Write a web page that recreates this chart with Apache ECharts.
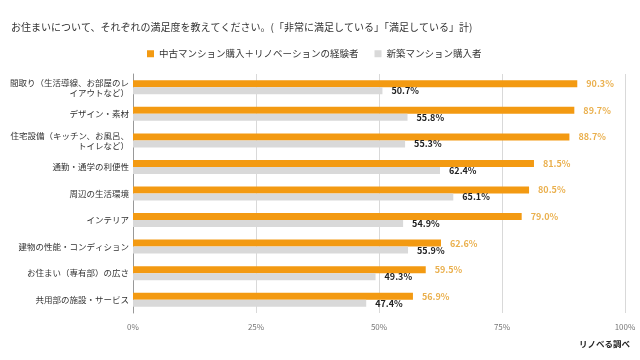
<!DOCTYPE html>
<html><head><meta charset="utf-8">
<script src="https://cdn.jsdelivr.net/npm/echarts@6/dist/echarts.min.js"></script>
<style>html,body{margin:0;padding:0;background:#fff}#c{width:640px;height:360px}</style>
</head><body><div id="c"></div>
<script>
const categories = [
  "間取り（生活導線、お部屋のレ\nイアウトなど）",
  "デザイン・素材",
  "住宅設備（キッチン、お風呂、\nトイレなど）",
  "通勤・通学の利便性",
  "周辺の生活環境",
  "インテリア",
  "建物の性能・コンディション",
  "お住まい（専有部）の広さ",
  "共用部の施設・サービス"
];
const seriesNames = ["中古マンション購入＋リノベーションの経験者", "新築マンション購入者"];
const renovation = [90.3, 89.7, 88.7, 81.5, 80.5, 79.0, 62.6, 59.5, 56.9];
const newBuild = [50.7, 55.8, 55.3, 62.4, 65.1, 54.9, 55.9, 49.3, 47.4];
const xTicks = [0, 25, 50, 75, 100];

const FONT = '"Noto Sans CJK JP", "Noto Sans", sans-serif';
const chart = echarts.init(document.getElementById('c'), null, {renderer: 'canvas'});
chart.setOption({
  animation: false,
  textStyle: {fontFamily: FONT},
  title: [{
    text: 'お住まいについて、それぞれの満足度を教えてください。(「非常に満足している」「満足している」計)',
    left: 6, top: 17,
    textStyle: {fontSize: 10, fontWeight: 'normal', color: '#333', fontFamily: FONT}
  }, {
    text: 'リノベる調べ',
    right: 5, top: 335,
    textStyle: {fontSize: 8.5, fontWeight: 'bold', color: '#222', fontFamily: FONT}
  }],
  legend: {
    left: 142, top: 44,
    itemWidth: 7, itemHeight: 7, itemGap: 16,
    icon: 'rect',
    textStyle: {fontSize: 9.5, color: '#333', fontFamily: FONT},
    data: seriesNames
  },
  grid: {left: 133, right: 15, top: 74, bottom: 47, containLabel: false},
  xAxis: {
    type: 'value', min: 0, max: 100, interval: 25,
    axisLine: {show: false}, axisTick: {show: false},
    splitLine: {show: true, lineStyle: {color: '#d9d9d9', width: 1}},
    axisLabel: {
      fontSize: 8, color: '#777', margin: 10, fontFamily: FONT,
      formatter: v => xTicks.includes(v) ? v + '%' : ''
    }
  },
  yAxis: {
    type: 'category', inverse: true, data: categories,
    axisLine: {show: true, lineStyle: {color: '#999'}},
    axisTick: {show: false},
    axisLabel: {fontSize: 8.5, color: '#333', margin: 4, lineHeight: 10, align: 'right', fontFamily: FONT}
  },
  series: [{
    name: seriesNames[0], type: 'bar', data: renovation,
    barWidth: 7, barGap: '0%',
    itemStyle: {color: '#f39a12'},
    label: {show: true, position: 'right', distance: 9, fontSize: 9, color: '#eab04e',
      fontWeight: 'bold', formatter: p => p.value.toFixed(1) + '%', fontFamily: FONT}
  }, {
    name: seriesNames[1], type: 'bar', data: newBuild,
    barWidth: 7, barGap: '0%',
    itemStyle: {color: '#d9d9d9'},
    label: {show: true, position: 'right', distance: 9, fontSize: 9, color: '#222',
      fontWeight: 'bold', formatter: p => p.value.toFixed(1) + '%', fontFamily: FONT}
  }]
});
</script></body></html>
